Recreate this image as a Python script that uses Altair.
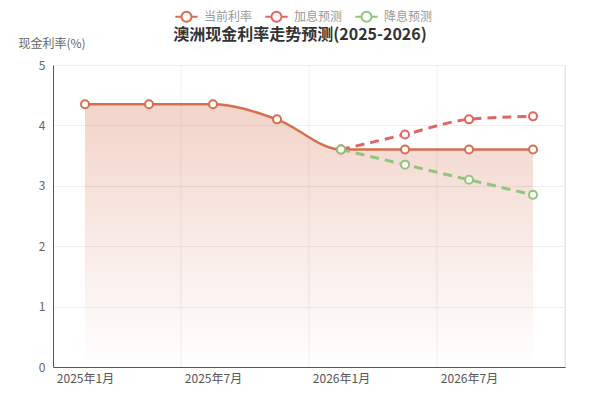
import altair as alt
import pandas as pd

months = ["2025年1月", "2025年4月", "2025年7月", "2025年10月",
          "2026年1月", "2026年4月", "2026年7月", "2026年10月"]
current = [4.35, 4.35, 4.35, 4.1, 3.6, 3.6, 3.6, 3.6]
forecast_months = ["2026年1月", "2026年4月", "2026年7月", "2026年10月"]
hike = [3.6, 3.85, 4.1, 4.15]
cut = [3.6, 3.35, 3.1, 2.85]
series_names = ["当前利率", "加息预测", "降息预测"]
series_colors = ["#d4704e", "#e06666", "#93c47d"]
label_every = 2
y_ticks = [0, 1, 2, 3, 4, 5]

rows = []
for m, v in zip(months, current):
    rows.append({"month": m, "idx": months.index(m), "value": v, "series": series_names[0], "order": 0})
for m, v in zip(forecast_months, hike):
    rows.append({"month": m, "idx": months.index(m), "value": v, "series": series_names[1], "order": 1})
for m, v in zip(forecast_months, cut):
    rows.append({"month": m, "idx": months.index(m), "value": v, "series": series_names[2], "order": 2})
df = pd.DataFrame(rows)
cur_df = df[df.series == series_names[0]]
fc_df = df[df.series != series_names[0]]

# category boundaries (every other category) for vertical grid lines
bounds = pd.DataFrame({"b": [i + label_every - 0.5 for i in range(0, len(months), label_every)]})

label_expr = "[" + ",".join(f"'{m}'" for m in months) + "][datum.value]"
font = "Noto Sans CJK SC"
x_scale = alt.Scale(domain=[-0.5, len(months) - 0.5], nice=False, zero=False)

x_enc = alt.X("idx:Q", scale=x_scale,
              axis=alt.Axis(values=list(range(0, len(months), label_every)), labelExpr=label_expr,
                            grid=False, ticks=False, domainColor="#555", domainWidth=1,
                            labelColor="#555", labelFontSize=12, labelPadding=6, title=None,
                            labelFont=font))
y_enc = alt.Y("value:Q",
              scale=alt.Scale(domain=[0, 5], nice=False),
              axis=alt.Axis(values=y_ticks, title="现金利率(%)", titleAngle=0, titleX=-35, titleY=-22,
                            titleAlign="left", titleBaseline="middle", titleFontWeight="normal",
                            titleColor="#666", titleFontSize=12, titleFont=font,
                            grid=True, gridColor="#eeeeee", ticks=False, domainColor="#555",
                            labelColor="#666", labelFontSize=12, labelPadding=8, labelFont=font))

grid = alt.Chart(bounds).mark_rule(color="#eeeeee", strokeWidth=1).encode(
    x=alt.X("b:Q", scale=x_scale)
)

area = alt.Chart(cur_df).mark_area(
    interpolate="monotone",
    color=alt.Gradient(gradient="linear",
                       stops=[alt.GradientStop(color="rgba(212,112,78,0.3)", offset=0),
                              alt.GradientStop(color="rgba(212,112,78,0.0)", offset=1)],
                       x1=1, x2=1, y1=0, y2=1)
).encode(x=x_enc, y=y_enc)

color_scale = alt.Scale(domain=series_names, range=series_colors)

cur_line = alt.Chart(cur_df).mark_line(interpolate="monotone", strokeWidth=2.5).encode(
    x=x_enc, y=y_enc,
    color=alt.Color("series:N", scale=color_scale,
                    legend=alt.Legend(orient="none", direction="horizontal", legendX=121, legendY=-61,
                                      title=None,
                                      symbolType="M-1,0L-0.45,0M0.45,0L1,0M0.45,0A0.45,0.45,0,1,1,-0.45,0A0.45,0.45,0,1,1,0.45,0Z",
                                      symbolSize=500, symbolStrokeWidth=2, symbolFillColor="white",
                                      labelColor="#999", labelFontSize=12, labelFont=font,
                                      labelOffset=5, columnPadding=8)),
)

fc_lines = alt.Chart(fc_df).mark_line(interpolate="monotone", strokeWidth=3, strokeDash=[9, 6]).encode(
    x=x_enc, y=y_enc,
    color=alt.Color("series:N", scale=color_scale, legend=None),
    detail="series:N",
)

points = alt.Chart(df).mark_point(filled=False, fill="white", fillOpacity=1, size=64, strokeWidth=2, opacity=1).encode(
    x=x_enc, y=y_enc,
    color=alt.Color("series:N", scale=color_scale, legend=None),
    order=alt.Order("order:Q"),
)

chart = alt.layer(grid, area, cur_line, fc_lines, points).properties(
    width=512, height=302,
    autosize=alt.AutoSizeParams(type="none"),
    padding={"left": 45, "top": 57, "right": 19, "bottom": 20},
    title=alt.TitleParams("澳洲现金利率走势预测(2025-2026)", fontSize=16, fontWeight="bold",
                          color="#333", anchor="middle", dx=-9, dy=57, offset=10,
                          baseline="middle", font=font),
).configure_view(stroke=None).configure(font=font)

chart.save("out.html", embed_options={"renderer": "svg", "actions": False})
